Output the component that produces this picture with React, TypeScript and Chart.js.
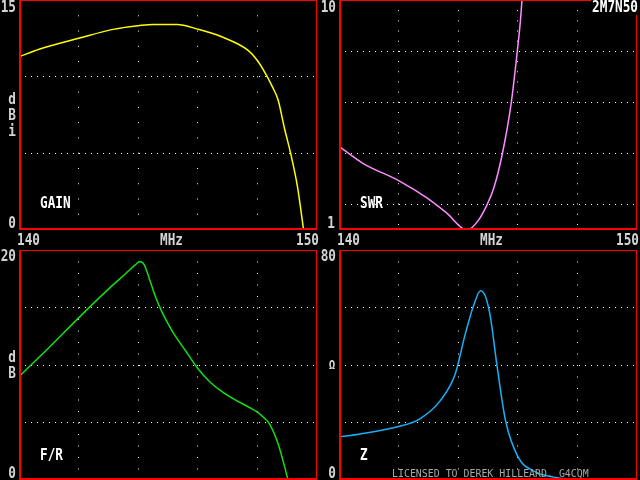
import React, { useEffect, useRef } from "react";
import { Chart, registerables } from "chart.js";

Chart.register(...registerables);

// ---- data ----
const freqMin = 140;
const freqMax = 150;
const freqGridTicks = [142, 144, 146, 148];
const xLabels = ["140", "MHz", "150"];

const gainFreq = [140.0, 140.7, 142.0, 143.2, 144.0, 144.5, 145.3, 146.0, 146.8, 147.7, 148.0, 148.3, 148.5, 148.7, 148.9, 149.12, 149.35, 149.55];
const gainDbi = [11.3, 11.8, 12.5, 13.1, 13.32, 13.41, 13.41, 13.1, 12.6, 11.7, 11.05, 10.1, 9.35, 8.45, 6.7, 4.96, 2.77, 0.0];
const gainGridTicks = [5, 10];
const gainTicks = ["15", "0"];

const swrFreq = [140.0, 140.8, 142.0, 142.95, 143.6, 144.3, 144.65, 144.97, 145.2, 145.48, 145.78, 145.98, 146.09, 146.14];
const swrVal = [2.31, 1.95, 1.64, 1.38, 1.19, 1.0, 1.09, 1.29, 1.53, 2.14, 3.57, 5.94, 8.18, 10.0];
const swrGridTicks = [1.29, 2.15, 3.59, 5.99];
const swrTicks = ["10", "1"];

const frFreq = [140.0, 141.0, 142.0, 143.0, 143.6, 143.9, 144.05, 144.15, 144.24, 144.4, 144.6, 144.8, 145.0, 145.2, 145.6, 146.0, 146.4, 146.8, 147.2, 147.7, 148.0, 148.2, 148.4, 148.7, 149.03];
const frDb = [9.0, 11.5, 14.1, 16.6, 18.0, 18.7, 18.98, 18.9, 18.5, 17.3, 15.8, 14.6, 13.6, 12.7, 11.2, 9.7, 8.55, 7.7, 7.05, 6.35, 5.9, 5.45, 4.9, 3.1, 0.0];
const frGridTicks = [5, 10, 15];
const frTicks = ["20", "0"];

const zFreq = [140.0, 140.7, 142.0, 142.7, 143.4, 143.9, 144.24, 144.52, 144.75, 144.92, 145.08, 145.31, 145.59, 146.02, 146.54, 147.2, 147.8, 150.0];
const zOhm = [15.0, 16.0, 18.6, 21.2, 27.6, 36.9, 50.9, 60.8, 65.8, 63.7, 56.7, 39.2, 20.6, 7.8, 3.1, 1.0, 0.35, 0.1];
const zGridTicks = [20, 40, 60];
const zTicks = ["80", "0"];

const modelName = "2M7N50";
const licenseText = "LICENSED TO DEREK HILLEARD. G4CQM";

// ---- presentation ----
const FONT = "'DejaVu Sans Mono'";
const AXIS_TEXT = "#d4d4d4";

type TextItem = { t: string; x: number; y: number; align: CanvasTextAlign; color?: string; size?: number; sx?: number; weight?: string };

type Spec = {
  left: number;
  top: number;
  width: number;
  height: number;
  padding: { left: number; right: number; top: number; bottom: number };
  freq: number[];
  values: number[];
  color: string;
  yLog: boolean;
  yMin: number;
  yMax: number;
  yGrid: number[];
  xDotGap: number;
  texts: TextItem[];
  labelBox?: boolean;
};

const topPad = { left: 19, right: 3, top: 0, bottom: 18 };
const botPad = { left: 19, right: 3, top: 2, bottom: 0 };

const xLabelItems = (): TextItem[] => [
  { t: xLabels[0], x: 17, y: 245, align: "left", color: AXIS_TEXT },
  { t: xLabels[1], x: 171.5, y: 245, align: "center", color: AXIS_TEXT },
  { t: xLabels[2], x: 319, y: 245, align: "right", color: AXIS_TEXT },
];

const specs: Spec[] = [
  {
    left: 0, top: 0, width: 320, height: 248, padding: topPad,
    freq: gainFreq, values: gainDbi, color: "#ffff00",
    yLog: false, yMin: 0, yMax: 15, yGrid: gainGridTicks, xDotGap: 14.27,
    texts: [
      { t: gainTicks[0], x: 16, y: 12, align: "right", color: AXIS_TEXT },
      { t: gainTicks[1], x: 16, y: 228, align: "right", color: AXIS_TEXT },
      { t: "d", x: 12, y: 104, align: "center", color: AXIS_TEXT },
      { t: "B", x: 12, y: 120, align: "center", color: AXIS_TEXT },
      { t: "i", x: 12, y: 136, align: "center", color: AXIS_TEXT },
      { t: "GAIN", x: 40, y: 208, align: "left" },
      ...xLabelItems(),
    ],
  },
  {
    left: 320, top: 0, width: 320, height: 248, padding: topPad,
    freq: swrFreq, values: swrVal, color: "#ff8cff",
    yLog: true, yMin: 1, yMax: 10, yGrid: swrGridTicks, xDotGap: 9.18,
    labelBox: true,
    texts: [
      { t: swrTicks[0], x: 16, y: 12, align: "right", color: AXIS_TEXT },
      { t: swrTicks[1], x: 15, y: 228, align: "right", color: AXIS_TEXT },
      { t: "SWR", x: 40, y: 208, align: "left" },
      { t: modelName, x: 318, y: 12, align: "right" },
      ...xLabelItems(),
    ],
  },
  {
    left: 0, top: 248, width: 320, height: 232, padding: botPad,
    freq: frFreq, values: frDb, color: "#10e010",
    yLog: false, yMin: 0, yMax: 20, yGrid: frGridTicks, xDotGap: 10.5,
    texts: [
      { t: frTicks[0], x: 16, y: 13, align: "right", color: AXIS_TEXT },
      { t: frTicks[1], x: 16, y: 230, align: "right", color: AXIS_TEXT },
      { t: "d", x: 12, y: 114, align: "center", color: AXIS_TEXT },
      { t: "B", x: 12, y: 130, align: "center", color: AXIS_TEXT },
      { t: "F/R", x: 40, y: 212, align: "left" },
    ],
  },
  {
    left: 320, top: 248, width: 320, height: 232, padding: botPad,
    freq: zFreq, values: zOhm, color: "#18b0f8",
    yLog: false, yMin: 0, yMax: 80, yGrid: zGridTicks, xDotGap: 10.5,
    texts: [
      { t: zTicks[0], x: 16, y: 13, align: "right", color: AXIS_TEXT },
      { t: zTicks[1], x: 16, y: 230, align: "right", color: AXIS_TEXT },
      { t: "Ω", x: 12, y: 121, align: "center", size: 12, sx: 0.9, color: AXIS_TEXT },
      { t: "Z", x: 40, y: 212, align: "left" },
      { t: licenseText, x: 72, y: 229, align: "left", color: "#a8a8a8", size: 11, sx: 0.9, weight: "normal" },
    ],
  },
];

function drawText(ctx: CanvasRenderingContext2D, item: TextItem) {
  ctx.save();
  ctx.translate(item.x, item.y);
  ctx.scale(item.sx ?? 0.82, 1);
  ctx.font = `${item.weight ?? "bold"} ${item.size ?? 15.5}px ${FONT}`;
  ctx.fillStyle = item.color ?? "#ffffff";
  ctx.textAlign = item.align;
  ctx.textBaseline = "alphabetic";
  ctx.fillText(item.t, 0, 0);
  ctx.restore();
}

function framePlugin(spec: Spec) {
  return {
    id: "frame",
    afterDraw(chart: any) {
      const { ctx, chartArea } = chart;
      const l = Math.round(chartArea.left);
      const r = Math.round(chartArea.right) - 1;
      const t = Math.round(chartArea.top);
      const b = Math.round(chartArea.bottom) - 1;
      ctx.save();
      ctx.fillStyle = "#ff0000";
      ctx.fillRect(l, t, r - l + 1, 1);
      ctx.fillRect(l, b - 1, r - l + 1, 2);
      ctx.fillRect(l, t, 2, b - t + 1);
      ctx.fillRect(r, t, 1, b - t + 1);
      if (spec.labelBox) {
        ctx.fillStyle = "#000000";
        ctx.fillRect(271, 0, 49, 15);
      }
      ctx.restore();
      spec.texts.forEach((it) => drawText(ctx, it));
    },
  };
}

function buildConfig(spec: Spec): any {
  const grid = { color: "#ffffff", lineWidth: 1, drawTicks: false };
  return {
    type: "line",
    data: {
      datasets: [
        {
          data: spec.freq.map((f, i) => ({ x: f, y: spec.values[i] })),
          borderColor: spec.color,
          borderWidth: 1.5,
          pointRadius: 0,
          fill: false,
          cubicInterpolationMode: "monotone",
        },
      ],
    },
    options: {
      animation: false,
      responsive: false,
      maintainAspectRatio: false,
      events: [],
      layout: { padding: spec.padding },
      plugins: { legend: { display: false }, tooltip: { enabled: false }, title: { display: false } },
      scales: {
        x: {
          type: "linear",
          min: freqMin,
          max: freqMax,
          ticks: { display: false },
          afterBuildTicks: (s: any) => {
            s.ticks = freqGridTicks.map((v) => ({ value: v }));
          },
          grid,
          border: { display: false, dash: [1, spec.xDotGap] },
        },
        y: {
          type: spec.yLog ? "logarithmic" : "linear",
          min: spec.yMin,
          max: spec.yMax,
          ticks: { display: false },
          afterBuildTicks: (s: any) => {
            s.ticks = spec.yGrid.map((v) => ({ value: v }));
          },
          grid,
          border: { display: false, dash: [1, 5] },
        },
      },
    },
    plugins: [framePlugin(spec)],
  };
}

function Panel({ spec }: { spec: Spec }) {
  const ref = useRef<HTMLCanvasElement>(null);
  useEffect(() => {
    const chart = new Chart(ref.current as HTMLCanvasElement, buildConfig(spec));
    return () => chart.destroy();
  }, [spec]);
  return (
    <canvas
      ref={ref}
      width={spec.width}
      height={spec.height}
      style={{ position: "absolute", left: spec.left, top: spec.top, width: spec.width, height: spec.height }}
    />
  );
}

export default function App() {
  return (
    <div style={{ position: "fixed", left: 0, top: 0, width: 640, height: 480, background: "#000000", overflow: "hidden" }}>
      {specs.map((s, i) => (
        <Panel key={i} spec={s} />
      ))}
    </div>
  );
}
